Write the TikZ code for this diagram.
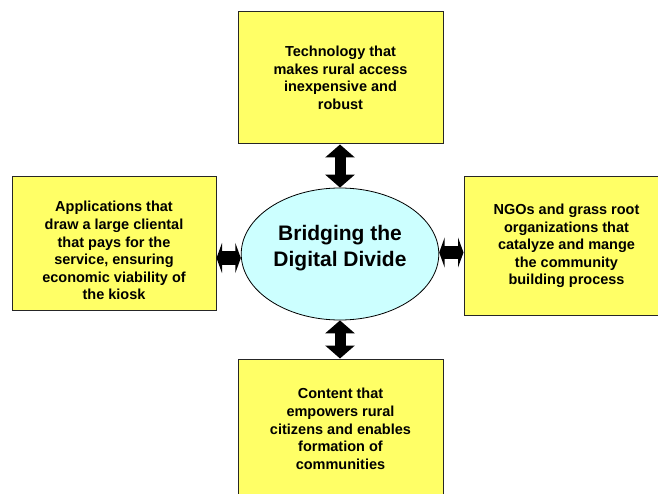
\documentclass[tikz,border=0pt]{standalone}
\usepackage{fontspec}
\setmainfont{Liberation Sans}
\usetikzlibrary{shapes.geometric, arrows.meta}
\definecolor{boxyellow}{RGB}{255,255,102}
\definecolor{hubcyan}{RGB}{204,255,255}

\begin{document}
\begin{tikzpicture}[x=1pt, y=-1pt]
	\tikzstyle{box} = [rectangle, minimum width=205pt, align=center, draw=black!85, line width=1pt, fill=boxyellow, font=\fontsize{14.5}{17.6}\selectfont\bfseries]
	\tikzstyle{hub} = [ellipse, minimum width=194pt, minimum height=132pt, align=center, draw=black, line width=0.8pt, fill=hubcyan, font=\fontsize{21}{26.5}\selectfont\bfseries]
	\tikzstyle{arrow} = [line width=11pt, {Triangle[width=29pt, length=13pt]}-{Triangle[width=29pt, length=13pt]}]
	\tikzstyle{flatarrow} = [line width=13pt, {Triangle[width=30pt, length=5.5pt]}-{Triangle[width=30pt, length=5.5pt]}]
	\useasboundingbox (0,0) rectangle (658,494);
	\node (bridging) [hub] at (340,254) {Bridging the\\Digital Divide\rule[-16pt]{0pt}{0pt}};
	\node (technology) [box, minimum height=132pt] at (340.5,78) {Technology that\\makes rural access\\inexpensive and\\robust};
	\node (ngos) [box, minimum height=138pt] at (566.5,246) {NGOs and grass root\\organizations that\\catalyze and mange\\the community\\building process};
	\node (content) [box, minimum height=140pt] at (340.5,429) {Content that\\empowers rural\\citizens and enables\\formation of\\communities};
	\node (applications) [box, minimum width=204pt, minimum height=133pt] at (114,243.5) {\rule{0pt}{25pt}Applications that\\draw a large cliental\\that pays for the\\service, ensuring\\economic viability of\\the kiosk};
	\draw [arrow] (technology.south -| bridging.north) -- (bridging.north);
	\draw [arrow] (bridging.south) -- (content.north -| bridging.south);
	\draw [flatarrow] ([yshift=-4pt]bridging.west -| applications.east) -- ([yshift=-4pt]bridging.west);
	\draw [flatarrow] ([yshift=1.5pt]bridging.east) -- ([yshift=1.5pt]bridging.east -| ngos.west);
\end{tikzpicture}
\end{document}
